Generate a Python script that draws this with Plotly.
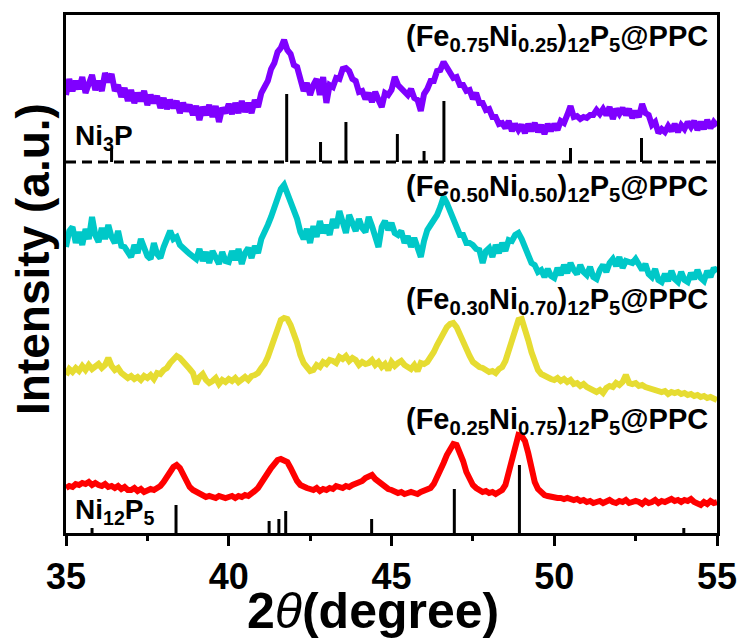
import numpy as np
import plotly.graph_objects as go

# 2-theta sampling grid (0.1 degree step)
two_theta = np.round(np.linspace(35.0, 55.0, 201), 2)

# Diffraction intensities (a.u.), one per sample, 35.0 -> 55.0 deg
fe075 = [
    58, 74, 62, 72, 64, 76, 60, 71, 78, 63,
    72, 62, 80, 71, 79, 62, 68, 56, 65, 52,
    63, 50, 60, 52, 62, 48, 58, 50, 57, 45,
    55, 44, 53, 45, 52, 40, 50, 42, 48, 38,
    47, 33, 46, 38, 48, 36, 47, 31, 45, 40,
    49, 39, 50, 40, 52, 41, 50, 40, 53, 46,
    60, 66, 72, 84, 90, 101, 105, 113, 103, 99,
    88, 86, 73, 62, 70, 58, 68, 74, 58, 76,
    50, 68, 66, 75, 74, 84, 85, 82, 74, 72,
    61, 62, 54, 60, 51, 61, 53, 46, 60, 58,
    63, 76, 68, 64, 60, 58, 64, 55, 53, 42,
    59, 64, 72, 72, 82, 83, 91, 85, 82, 75,
    76, 68, 68, 62, 63, 54, 60, 50, 50, 43,
    44, 36, 36, 29, 30, 25, 32, 22, 29, 23,
    28, 20, 29, 22, 30, 21, 28, 19, 29, 22,
    29, 23, 32, 30, 38, 47, 36, 37, 34, 36,
    35, 38, 38, 43, 39, 44, 38, 46, 34, 44,
    39, 45, 38, 44, 35, 42, 36, 49, 40, 38,
    28, 31, 20, 24, 21, 27, 22, 29, 21, 28,
    24, 31, 26, 32, 23, 31, 24, 33, 25, 31,
    27,
]

fe050 = [
    56, 72, 76, 60, 71, 58, 74, 64, 86, 68,
    61, 75, 64, 78, 66, 60, 72, 57, 56, 52,
    46, 58, 50, 64, 55, 47, 44, 60, 49, 45,
    56, 64, 72, 64, 66, 58, 54, 52, 49, 46,
    44, 54, 42, 51, 40, 52, 45, 39, 51, 42,
    41, 52, 43, 54, 39, 50, 55, 45, 57, 50,
    64, 70, 78, 86, 97, 108, 114, 118, 110, 104,
    94, 84, 71, 64, 74, 60, 77, 66, 82, 70,
    78, 68, 84, 75, 92, 82, 70, 88, 78, 72,
    84, 75, 71, 86, 77, 68, 56, 76, 82, 73,
    80, 70, 68, 72, 60, 67, 56, 65, 53, 46,
    62, 73, 78, 82, 88, 96, 106, 100, 92, 82,
    74, 68, 68, 60, 60, 58, 54, 53, 40, 52,
    55, 46, 58, 50, 60, 52, 63, 62, 68, 70,
    64, 57, 48, 40, 38, 31, 33, 26, 34, 27,
    25, 35, 28, 38, 30, 40, 33, 29, 38, 31,
    28, 36, 26, 24, 33, 38, 31, 40, 44, 37,
    46, 35, 42, 41, 40, 44, 37, 33, 39, 29,
    26, 34, 23, 21, 29, 22, 32, 24, 21, 31,
    23, 21, 30, 24, 33, 25, 22, 32, 26, 35,
    31,
]

fe030 = [
    38, 44, 41, 45, 42, 47, 43, 48, 44, 46,
    49, 45, 48, 55, 47, 43, 45, 40, 37, 35,
    37, 34, 36, 33, 37, 35, 38, 34, 40, 39,
    43, 45, 50, 53, 57, 55, 52, 49, 44, 40,
    29, 36, 39, 33, 30, 32, 35, 29, 33, 31,
    34, 32, 35, 31, 34, 36, 33, 37, 38, 40,
    45, 49, 56, 66, 76, 86, 93, 95, 94, 88,
    80, 70, 58, 50, 46, 42, 43, 48, 46, 51,
    49, 53, 52, 50, 56, 54, 57, 52, 55, 53,
    48, 51, 49, 50, 53, 48, 51, 46, 49, 43,
    51, 47, 50, 52, 48, 45, 44, 48, 42, 50,
    49, 51, 55, 61, 68, 75, 80, 86, 89, 90,
    86, 78, 70, 63, 57, 51, 48, 46, 45, 43,
    41, 42, 40, 44, 46, 52, 63, 73, 83, 93,
    94, 85, 73, 61, 51, 43, 39, 37, 35, 34,
    33, 35, 32, 34, 31, 33, 29, 30, 27, 29,
    26, 24, 22, 21, 23, 20, 25, 27, 26, 30,
    28, 31, 38, 30, 29, 30, 27, 28, 26, 25,
    24, 23, 22, 21, 22, 19, 21, 20, 21, 19,
    20, 18, 19, 17, 18, 16, 17, 15, 16, 14,
    13,
]

fe025 = [
    45, 47, 46, 49, 48, 50, 49, 51, 48, 50,
    48, 47, 49, 46, 47, 45, 47, 44, 46, 43,
    43, 45, 42, 44, 41, 42, 44, 43, 45, 47,
    51, 55, 61, 66, 68, 65, 59, 51, 46, 43,
    41, 39, 38, 36, 37, 36, 35, 37, 36, 35,
    36, 37, 35, 37, 36, 38, 37, 39, 42, 45,
    51, 55, 60, 65, 70, 73, 74, 73, 71, 65,
    58, 52, 48, 46, 45, 44, 43, 45, 42, 44,
    43, 45, 44, 47, 46, 45, 47, 46, 48, 49,
    50, 52, 55, 57, 58, 54, 51, 48, 46, 44,
    43, 42, 40, 41, 39, 40, 41, 40, 39, 41,
    42, 43, 45, 49, 55, 62, 70, 78, 85, 89,
    88, 81, 72, 61, 53, 48, 45, 43, 41, 42,
    40, 41, 39, 41, 43, 48, 61, 73, 88, 98,
    97, 92, 80, 66, 51, 44, 40, 38, 37, 36,
    36, 35, 35, 34, 35, 34, 33, 34, 32, 33,
    31, 32, 30, 31, 32, 30, 31, 33, 31, 30,
    32, 31, 33, 30, 31, 32, 31, 29, 32, 30,
    31, 33, 30, 32, 31, 33, 34, 32, 33, 31,
    33, 32, 34, 31, 30, 28, 31, 29, 32, 30,
    31,
]

# Reference patterns: peak positions (deg) and relative intensities
ni3p_pos = [36.4, 41.78, 42.82, 43.6, 45.18, 46.0, 46.61, 50.5, 52.68]
ni3p_int = [14, 68, 20, 40, 28, 11, 61, 14, 24]
ni12p5_pos = [35.8, 38.38, 41.24, 41.54, 41.75, 44.39, 46.93, 48.93, 53.98]
ni12p5_int = [5, 28, 12, 14, 22, 14, 44, 68, 5]

sample_names = [
    "(Fe<sub>0.75</sub>Ni<sub>0.25</sub>)<sub>12</sub>P<sub>5</sub>@PPC",
    "(Fe<sub>0.50</sub>Ni<sub>0.50</sub>)<sub>12</sub>P<sub>5</sub>@PPC",
    "(Fe<sub>0.30</sub>Ni<sub>0.70</sub>)<sub>12</sub>P<sub>5</sub>@PPC",
    "(Fe<sub>0.25</sub>Ni<sub>0.75</sub>)<sub>12</sub>P<sub>5</sub>@PPC",
]

# Vertical stacking of the patterns
offsets = [380, 230, 120, 0]
colors = ["#7F00FF", "#00C8C8", "#E6DC32", "#FF0000"]
label_y = [495, 345, 232, 112]
ni3p_base = 371

FONT = "Liberation Sans, Arial, sans-serif"

fig = go.Figure()

for vals, off, col in zip([fe075, fe050, fe030, fe025], offsets, colors):
    fig.add_trace(go.Scatter(
        x=two_theta, y=np.array(vals) + off, mode="lines",
        line=dict(color=col, width=6), showlegend=False, hoverinfo="skip",
    ))


def sticks(pos, inten, base):
    xs, ys = [], []
    for p, h in zip(pos, inten):
        xs += [p, p, None]
        ys += [base, base + h, None]
    return xs, ys


for pos, inten, base in [(ni3p_pos, ni3p_int, ni3p_base), (ni12p5_pos, ni12p5_int, 0)]:
    sx, sy = sticks(pos, inten, base)
    fig.add_trace(go.Scatter(
        x=sx, y=sy, mode="lines", line=dict(color="black", width=3),
        showlegend=False, hoverinfo="skip",
    ))

# dashed separator under the Ni3P reference
fig.add_shape(type="line", xref="x", yref="y", x0=35, x1=55,
              y0=ni3p_base, y1=ni3p_base,
              line=dict(color="black", width=3, dash="10px,6px"))

for name, ly in zip(sample_names, label_y):
    fig.add_annotation(x=0.99, xref="paper", y=ly, yref="y",
                       text="<b>" + name + "</b>", showarrow=False,
                       xanchor="right", yanchor="middle",
                       font=dict(family=FONT, size=29, color="black"))

fig.add_annotation(x=35.2, xref="x", y=396, yref="y",
                   text="<b>Ni<sub>3</sub>P</b>", showarrow=False,
                   xanchor="left", yanchor="middle",
                   font=dict(family=FONT, size=28, color="black"))
fig.add_annotation(x=35.2, xref="x", y=22, yref="y",
                   text="<b>Ni<sub>12</sub>P<sub>5</sub></b>", showarrow=False,
                   xanchor="left", yanchor="middle",
                   font=dict(family=FONT, size=28, color="black"))

# axis titles
fig.add_annotation(x=-0.05, xref="paper", y=0.53, yref="paper",
                   text="<b>Intensity (a.u.)</b>", showarrow=False, textangle=-90,
                   xanchor="center", yanchor="middle",
                   font=dict(family=FONT, size=46, color="black"))
fig.add_annotation(x=0.471, xref="paper", y=-0.151, yref="paper",
                   text="<b>2</b><i>θ</i><b>(degree)</b>", showarrow=False,
                   xanchor="center", yanchor="middle",
                   font=dict(family=FONT, size=50, color="black"))

fig.update_layout(
    width=745, height=642,
    margin=dict(l=66, r=28, t=15, b=109),
    paper_bgcolor="white", plot_bgcolor="white",
    xaxis=dict(range=[35, 55], showline=True, linewidth=3, linecolor="black",
               mirror=True, ticks="outside", ticklen=10, tickwidth=3,
               tickcolor="black", tick0=35, dtick=5, showgrid=False,
               zeroline=False, automargin=False,
               minor=dict(ticks="outside", ticklen=5, tickwidth=3,
                          tickcolor="black", dtick=2.5),
               tickfont=dict(family=FONT, size=36, color="black", weight="bold")),
    yaxis=dict(range=[0, 518], showline=True, linewidth=3, linecolor="black",
               mirror=True, ticks="", showticklabels=False, showgrid=False,
               zeroline=False, automargin=False),
)

fig.write_html("out.html")
